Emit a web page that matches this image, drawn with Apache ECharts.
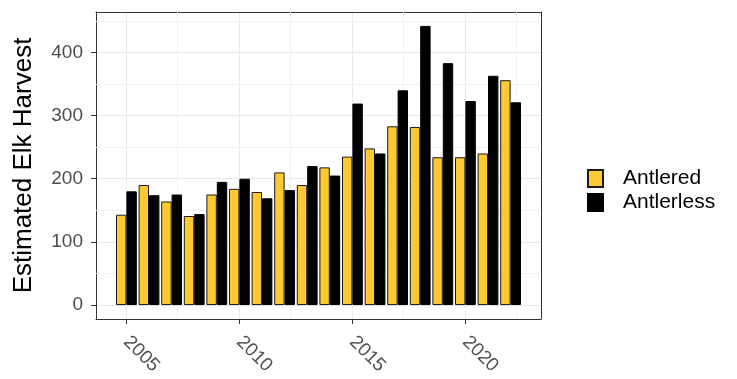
<!DOCTYPE html>
<html>
<head>
<meta charset="utf-8">
<script src="https://cdn.jsdelivr.net/npm/echarts@6/dist/echarts.min.js"></script>
<style>
  html, body { margin: 0; padding: 0; background: #fff; }
  #chart { width: 737px; height: 379px; }
</style>
</head>
<body>
<div id="chart"></div>
<script>
// harvest per year
const years = [2005, 2006, 2007, 2008, 2009, 2010, 2011, 2012, 2013, 2014, 2015, 2016, 2017, 2018, 2019, 2020, 2021, 2022]
const antlered = [143, 190, 164, 141, 175, 184, 179, 210, 190, 218, 235, 248, 283, 282, 234, 234, 240, 356]
const antlerless = [180, 174, 175, 144, 195, 200, 169, 182, 220, 205, 319, 240, 340, 442, 383, 323, 363, 321]
// minor grid lines (ggplot style)
const minorX = [2007.5, 2012.5, 2017.5, 2022.5]
const minorY = [50, 150, 250, 350, 450]

const chart = echarts.init(document.getElementById('chart'))

const FONT = 'Liberation Sans, Arial'
const xMin = 2003.655, xMax = 2023.345
const yMin = -22.1, yMax = 464

const toPairs = arr => years.map((y, i) => [y, arr[i]])

const minorLines = []
minorX.forEach(v => minorLines.push({ xAxis: v }))
minorY.forEach(v => minorLines.push({ yAxis: v }))

// extra axes only used to draw the top / right edge of the panel
const frameX = {
  type: 'value', position: 'top', min: xMin, max: xMax,
  axisLine: { show: true, onZero: false, lineStyle: { color: '#333333' } },
  axisTick: { show: false }, axisLabel: { show: false }, splitLine: { show: false }
}
const frameY = {
  type: 'value', position: 'right', min: yMin, max: yMax,
  axisLine: { show: true, onZero: false, lineStyle: { color: '#333333' } },
  axisTick: { show: false }, axisLabel: { show: false }, splitLine: { show: false }
}

const option = {
  animation: false,
  grid: { left: 96, right: 196, top: 12, bottom: 60 },
  legend: {
    orient: 'vertical',
    left: 582, top: 163,
    icon: 'rect',
    itemWidth: 15, itemHeight: 17, itemGap: 3,
    data: ['Antlered', 'Antlerless'],
    textStyle: { fontSize: 21, color: '#000', fontFamily: FONT, padding: [0, 0, 0, 15] }
  },
  xAxis: [{
    type: 'value',
    min: xMin, max: xMax,
    splitNumber: 4,
    axisLine: { show: true, onZero: false, lineStyle: { color: '#333333' } },
    axisTick: { show: true, length: 5, lineStyle: { color: '#333333' } },
    axisLabel: {
      rotate: -45, margin: 20, fontSize: 19, color: '#4d4d4d',
      fontFamily: FONT,
      showMinLabel: false, showMaxLabel: false,
      formatter: v => String(v)
    },
    splitLine: { show: true, lineStyle: { color: '#e8e8e8', width: 1 } }
  }, frameX],
  yAxis: [{
    type: 'value',
    min: yMin, max: yMax,
    splitNumber: 5,
    name: 'Estimated Elk Harvest',
    nameLocation: 'middle',
    nameGap: 59,
    nameTextStyle: { fontSize: 26, color: '#000', fontFamily: FONT },
    axisLine: { show: true, onZero: false, lineStyle: { color: '#333333' } },
    axisTick: { show: true, length: 5, lineStyle: { color: '#333333' } },
    axisLabel: {
      fontSize: 19, color: '#4d4d4d', margin: 13,
      fontFamily: FONT,
      showMinLabel: false, showMaxLabel: false
    },
    splitLine: { show: true, lineStyle: { color: '#e8e8e8', width: 1 } }
  }, frameY],
  series: [
    {
      name: 'Antlered',
      type: 'bar',
      data: toPairs(antlered),
      barWidth: 10.4,
      barGap: '0%',
      itemStyle: { color: '#FFC933', borderColor: '#1a1a1a', borderWidth: 1 },
      markLine: {
        silent: true,
        z: 1,
        symbol: 'none',
        label: { show: false },
        lineStyle: { color: '#f1f1f1', width: 1, type: 'solid' },
        data: minorLines
      }
    },
    {
      name: 'Antlerless',
      type: 'bar',
      data: toPairs(antlerless),
      barWidth: 10.4,
      barGap: '0%',
      itemStyle: { color: '#000000', borderColor: '#000000', borderWidth: 1 }
    }
  ]
}

chart.setOption(option)
</script>
</body>
</html>
